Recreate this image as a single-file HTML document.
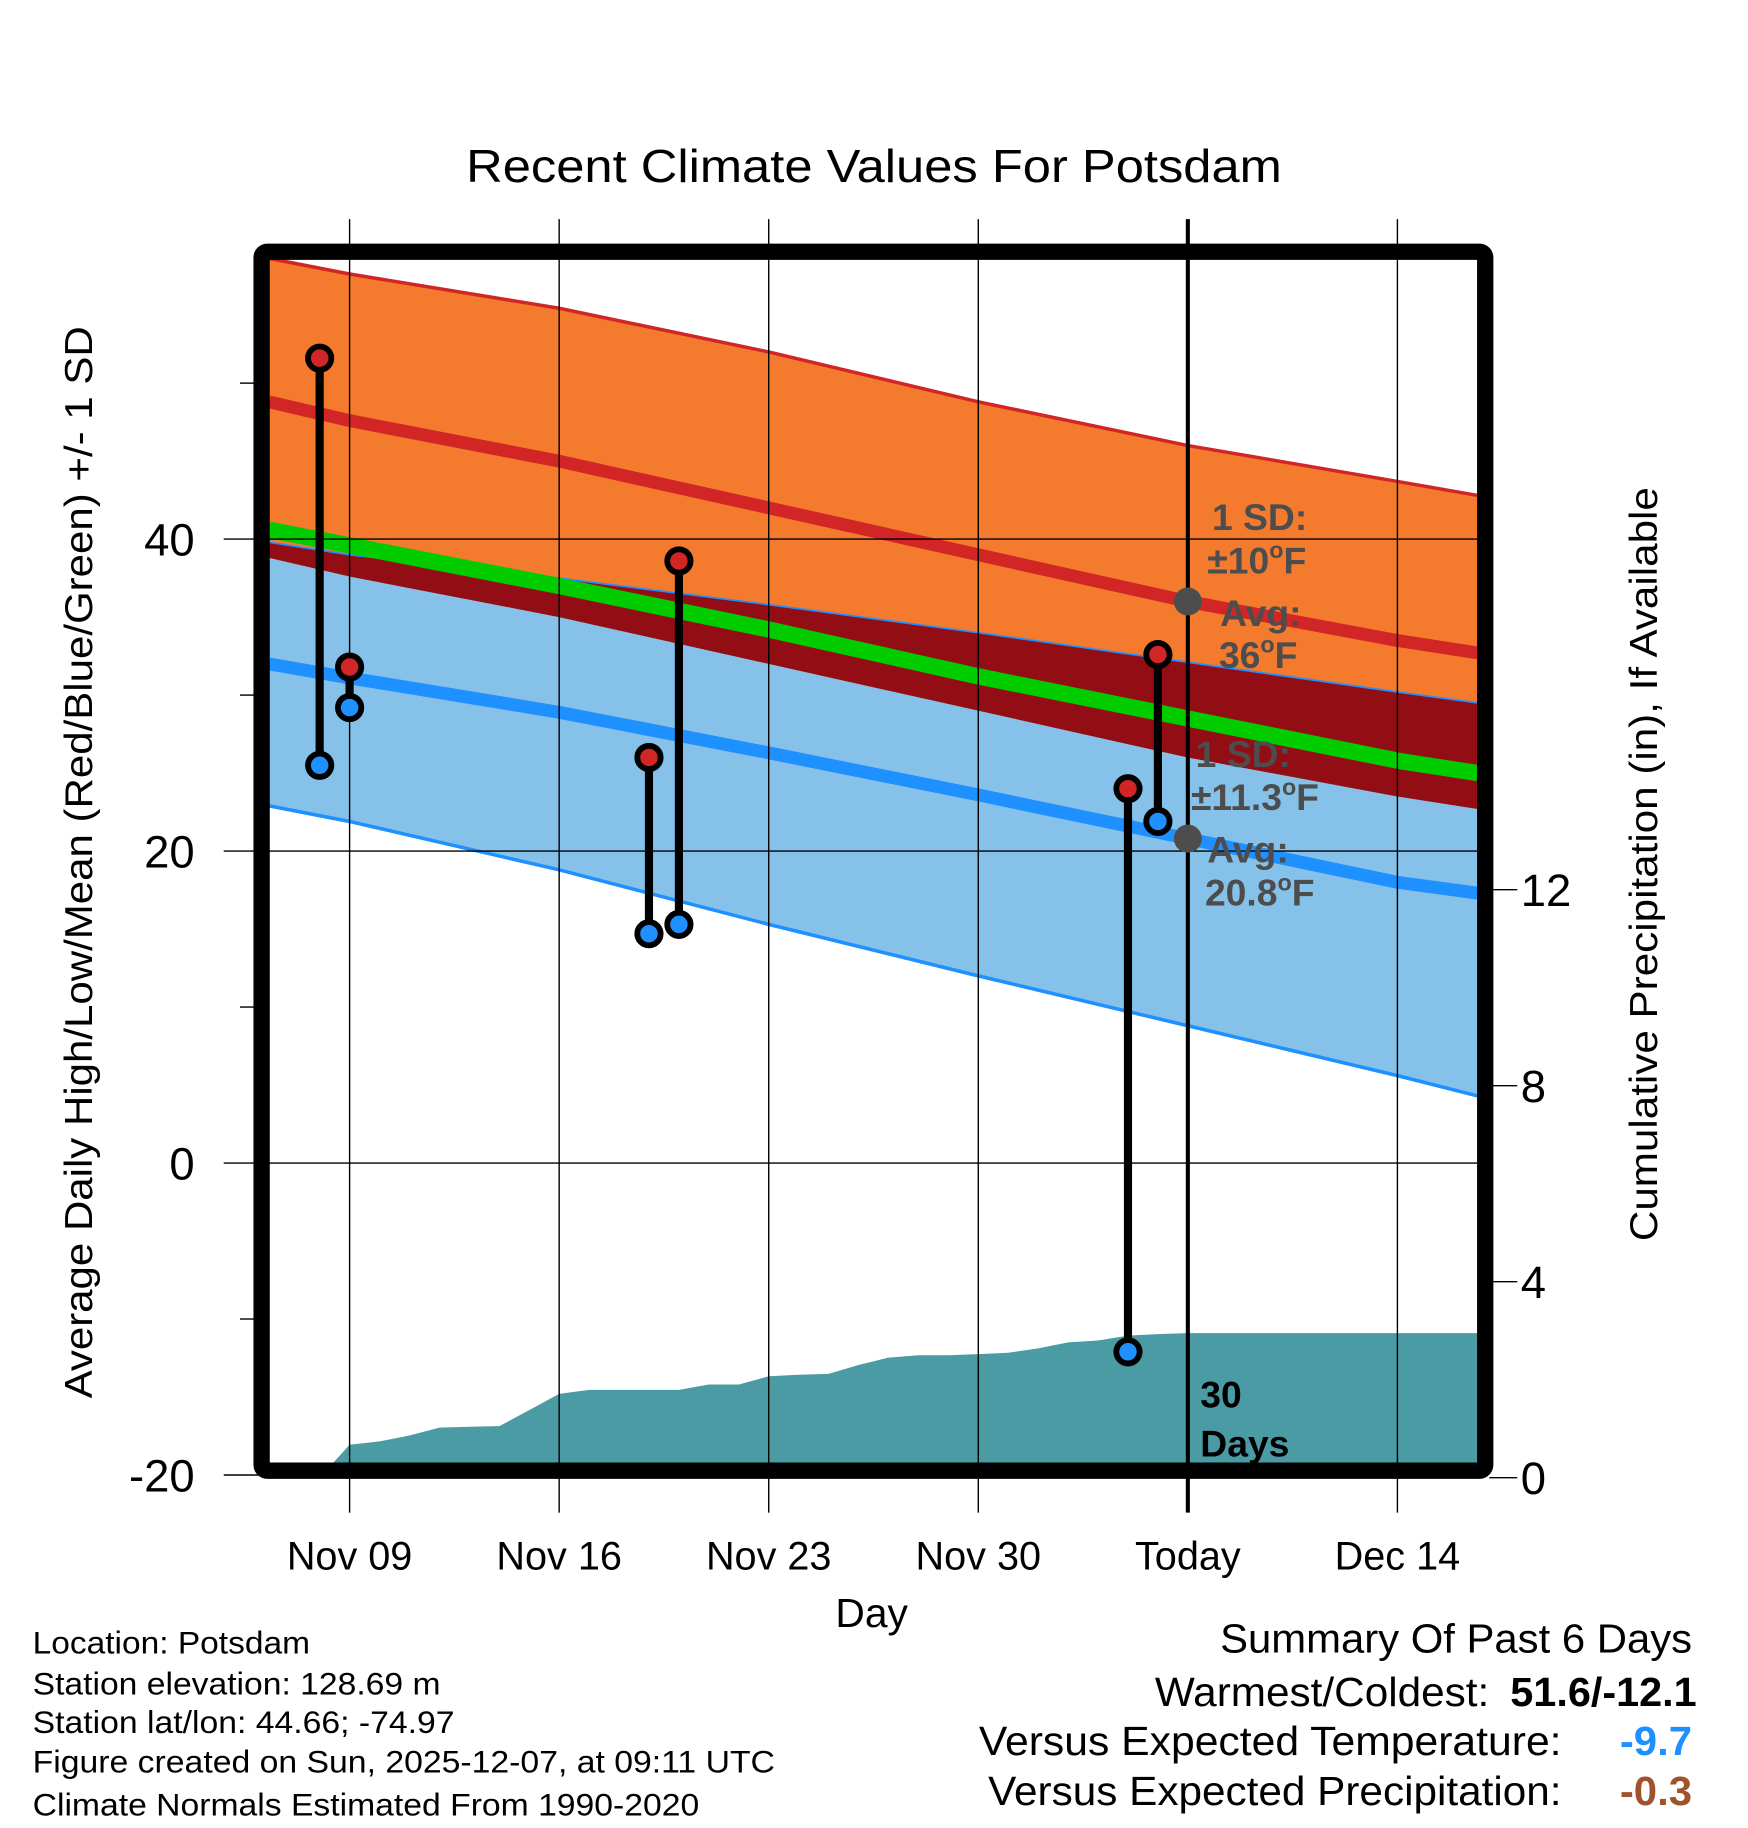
<!DOCTYPE html>
<html><head><meta charset="utf-8"><style>
html,body{margin:0;padding:0;background:#fff}
svg{display:block}
text{font-family:"Liberation Sans",sans-serif}
</style></head><body>
<svg id="chart" width="1748" height="1828" viewBox="0 0 1500 1568.6" xmlns="http://www.w3.org/2000/svg">
<text x="400" y="156" font-size="40" textLength="700" lengthAdjust="spacingAndGlyphs">Recent Climate Values For Potsdam</text>
<g id="plot"></g>
</svg>
<script>
const normDays=[-2.7,0,7,14,21,28,35,37.7];
const hiPlus=[58,57.0,54.8,52.0,48.8,46.0,43.7,42.8];
const hiMean=[48.8,47.6,45.0,42.0,39.0,36.0,33.5,32.7];
const meanNorm=[40.6,39.6,37.0,34.2,31.2,28.5,25.8,25.0];
const loPlus=[39.8,39.0,37.5,35.8,34.0,32.1,30.2,29.5];
const loMean=[32.0,31.1,28.9,26.3,23.6,20.8,18.0,17.3];
const loMinus=[22.9,21.9,18.8,15.3,12.0,8.8,5.6,4.3];
const hiSD=10;
const obsDays=[-1,0,10,11,26,27];
const obsHigh=[51.6,31.8,26,38.6,24,32.6];
const obsLow=[25.5,29.2,14.7,15.3,-12.1,21.9];
const precipDays=[-2.7,-1,0,1,2,3,4,5,6,7,8,9,10,11,12,13,14,15,16,17,18,19,20,21,22,23,24,25,26,27,28,37.7];
const precipVals=[0,0,0.67,0.74,0.86,1.02,1.04,1.05,1.38,1.71,1.79,1.79,1.79,1.79,1.9,1.9,2.07,2.1,2.12,2.3,2.45,2.5,2.5,2.52,2.55,2.64,2.76,2.8,2.9,2.93,2.95,2.95];
const xTickDays=[0,7,14,21,28,35];
const xTickLabels=["Nov 09","Nov 16","Nov 23","Nov 30","Today","Dec 14"];
const yTicks=[40,20,0,-20];
const yMinor=[50,30,10,-10];
const pTicks=[0,4,8,12];

const NS="http://www.w3.org/2000/svg";
const g=document.getElementById('plot');
const X=d=>300+d*25.69;
const Y=v=>998-v*13.385;
const P=p=>1268-p*42.05;
const L=231,R=1268,T=222,B=1260;
function mk(tag,attrs,parent){const e=document.createElementNS(NS,tag);for(const k in attrs)e.setAttribute(k,attrs[k]);(parent||g).appendChild(e);return e;}
function clampX(d){return Math.min(R,Math.max(L,X(d)));}
function line(vals){return vals.map((v,i)=>clampX(normDays[i]).toFixed(1)+','+Y(v).toFixed(1));}
function band(top,bot){return line(top).concat(line(bot).reverse()).join(' ');}
const hiMinus=hiMean.map(v=>v-hiSD);

let e;
e=mk('polygon',{points:band(loPlus,loMinus),fill:'#85c1e8'});


e=mk('polygon',{points:band(hiPlus,hiMinus),fill:'#f47a2e'});


e=mk('polygon',{points:band(loPlus,hiMinus),fill:'#930d15'});


e=mk('polyline',{points:line(hiPlus).join(' '),fill:'none',stroke:'#d22626',"stroke-width":3});


e=mk('polyline',{points:line(loPlus).join(' '),fill:'none',stroke:'#1e90ff',"stroke-width":1.5});


e=mk('polyline',{points:line(loMinus).join(' '),fill:'none',stroke:'#1e90ff',"stroke-width":3});


e=mk('polyline',{points:line(meanNorm).join(' '),fill:'none',stroke:'#00cc00',"stroke-width":14});


e=mk('polyline',{points:line(hiMean).join(' '),fill:'none',stroke:'#d22626',"stroke-width":11});


e=mk('polyline',{points:line(loMean).join(' '),fill:'none',stroke:'#1e90ff',"stroke-width":11});



let pp=precipDays.map((d,i)=>clampX(d).toFixed(1)+','+P(precipVals[i]).toFixed(1));
pp.push(R+','+B, L+','+B);
e=mk('polygon',{points:pp.join(' '),fill:'#4a9ba3'});



mk('rect',{x:L,y:180,width:R-L,height:T-180,fill:'#fff'});

xTickDays.forEach((d,i)=>{
  const x=X(d);
  e=mk('line',{x1:x,y1:188,x2:x,y2:1298,stroke:'#000','stroke-width':i==4?3.5:1.2});
  
  
  e=mk('text',{x:x,y:1347,'font-size':34,'text-anchor':'middle'});e.textContent=xTickLabels[i];
  
  
});
yTicks.forEach(v=>{
  const y=Y(v);
  e=mk('line',{x1:192,y1:y,x2:R,y2:y,stroke:'#000','stroke-width':1.2});
  
  
  e=mk('text',{x:167,y:y+14,'font-size':39,'text-anchor':'end'});e.textContent=v;
  
  
});
yMinor.forEach(v=>{mk('line',{x1:206,y1:Y(v),x2:218,y2:Y(v),stroke:'#000','stroke-width':1.2});});
pTicks.forEach(p=>{
  const y=P(p);
  mk('line',{x1:1278,y1:y,x2:1302,y2:y,stroke:'#000','stroke-width':1.2});
  e=mk('text',{x:1305,y:y+14,'font-size':39});e.textContent=p;
  
  
});

e=mk('rect',{x:224.5,y:216,width:1050,height:1046,fill:'none',stroke:'#000','stroke-width':14,rx:5});



obsDays.forEach((d,i)=>{
  const x=X(d);
  e=mk('line',{x1:x,y1:Y(obsHigh[i]),x2:x,y2:Y(obsLow[i]),stroke:'#000','stroke-width':7});
  
  
  e=mk('circle',{cx:x,cy:Y(obsHigh[i]),r:10,fill:'#d22626',stroke:'#000','stroke-width':5});
  
  
  e=mk('circle',{cx:x,cy:Y(obsLow[i]),r:10,fill:'#1e90ff',stroke:'#000','stroke-width':5});
  
  
});

const td=X(28);
mk('circle',{cx:td,cy:Y(hiMean[5]),r:12,fill:'#4d4d4d'});
mk('circle',{cx:td,cy:Y(loMean[5]),r:12,fill:'#4d4d4d'});
const ann=[["1 SD:","",1040,455],["±10","F",1036,492],["Avg:","",1047,537],["36","F",1046,573],["1 SD:","",1026,658],["±11.3","F",1022,695],["Avg:","",1036,740],["20.8","F",1034,777]];
ann.forEach(a=>{
  e=mk('text',{x:a[2],y:a[3],'font-size':32,'font-weight':'bold',fill:'#4d4d4d'});
  
  
  if(a[1]){
    const t1=mk('tspan',{},e);t1.textContent=a[0];
    const t2=mk('tspan',{'font-size':20,dy:-13},e);t2.textContent='o';
    const t3=mk('tspan',{dy:13},e);t3.textContent=a[1];
  } else e.textContent=a[0];
});
e=mk('text',{x:1030,y:1208,'font-size':32,'font-weight':'bold'});e.textContent='30';


e=mk('text',{x:1030,y:1250,'font-size':32,'font-weight':'bold'});e.textContent='Days';



e=mk('text',{x:-280,y:0,'font-size':33,textLength:920,lengthAdjust:'spacingAndGlyphs',transform:'translate(79,1480) rotate(-90)'});
e.setAttribute('x',0);
e.textContent='Average Daily High/Low/Mean (Red/Blue/Green) +/- 1 SD';
e.setAttribute('transform','translate(79,1200) rotate(-90)');


e=mk('text',{x:0,y:0,'font-size':33,textLength:647,lengthAdjust:'spacingAndGlyphs',transform:'translate(1422,1065) rotate(-90)'});e.textContent='Cumulative Precipitation (in), If Available';


e=mk('text',{x:748,y:1396,'font-size':35,'text-anchor':'middle'});e.textContent='Day';



const foot=["Location: Potsdam","Station elevation: 128.69 m","Station lat/lon: 44.66; -74.97","Figure created on Sun, 2025-12-07, at 09:11 UTC","Climate Normals Estimated From 1990-2020"];
const footLen=[238,350,362,637,572];
const fy=[1419,1454,1487,1521,1558];
foot.forEach((t,i)=>{e=mk('text',{x:28,y:fy[i],'font-size':27,textLength:footLen[i],lengthAdjust:'spacingAndGlyphs'});e.textContent=t;
  
  });
e=mk('text',{x:1047,y:1418,'font-size':35,textLength:405,lengthAdjust:'spacingAndGlyphs'});e.textContent='Summary Of Past 6 Days';


const sum=[["Warmest/Coldest:",991,287,"51.6/-12.1","#000",1296,160,1464],["Versus Expected Temperature:",840,500,"-9.7","#1e90ff",1390,62,1506],["Versus Expected Precipitation:",848,492,"-0.3","#a0522d",1390,62,1549]];
sum.forEach(s=>{
  e=mk('text',{x:s[1],y:s[7],'font-size':35,textLength:s[2],lengthAdjust:'spacingAndGlyphs'});e.textContent=s[0];
  
  
  e=mk('text',{x:s[5],y:s[7],'font-size':35,'font-weight':'bold',fill:s[4],textLength:s[6],lengthAdjust:'spacingAndGlyphs'});e.textContent=s[3];
  
  
});
</script>
</body></html>
